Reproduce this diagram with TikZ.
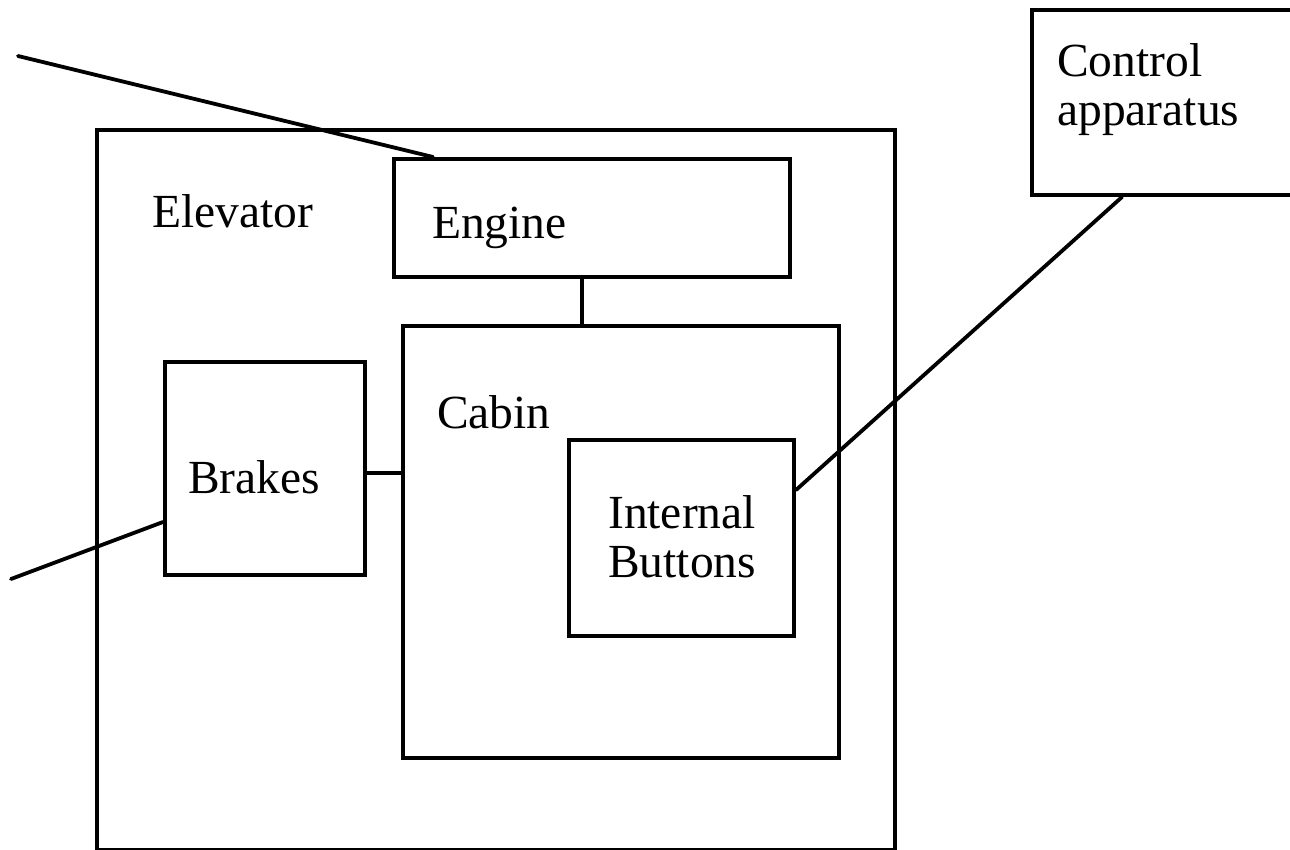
\documentclass[tikz,border=0pt]{standalone}
\usepackage{fontspec}
\setmainfont{Liberation Serif}
\usetikzlibrary{calc}
\begin{document}
\begin{tikzpicture}[x=1pt,y=-1pt,
  box/.style={draw=black,line width=4pt,rectangle,inner sep=0pt,anchor=north west},
  lbl/.style={inner sep=0pt,anchor=base west,align=left,font=\fontsize{47.5}{49}\selectfont},
  wire/.style={draw=black,line width=3.8pt}]
\useasboundingbox (0,0) rectangle (1290,850);
% boxes
\node[box,minimum width=798pt,minimum height=720pt] (elev) at (95,128) {};
\node[box,minimum width=396pt,minimum height=118pt] (engine) at (392,157) {};
\node[box,minimum width=436pt,minimum height=432pt] (cabin) at (401,324) {};
\node[box,minimum width=200pt,minimum height=213pt] (brakes) at (163,360) {};
\node[box,minimum width=225pt,minimum height=196pt] (buttons) at (567,438) {};
\node[box,minimum width=262pt,minimum height=185pt] (control) at (1030,8) {};
% labels
\node[lbl] (telev) at (152,228) {Elevator};
\node[lbl] (tengine) at (432,239) {Engine};
\node[lbl] (tcabin) at (437,428) {Cabin};
\node[lbl] (tbrakes) at (188,493) {Brakes};
\node[lbl] (tbuttons) at (608,577) {Internal\\Buttons};
\node[lbl] (tcontrol) at (1057,126) {Control\\apparatus};
% free ends
\coordinate (freeA) at (18,56);
\coordinate (freeB) at (11,579);
% connectors
\draw[wire,line cap=round] (freeA) -- ($(engine.north west)!(433,0)!(engine.north east)$);
\draw[wire,line cap=round] (freeB) -- ($(brakes.north west)!(0,522)!(brakes.south west)$);
\draw[wire] ($(engine.south west)!(582,0)!(engine.south east)$) -- ($(cabin.north west)!(582,0)!(cabin.north east)$);
\draw[wire] ($(brakes.north east)!(0,473)!(brakes.south east)$) -- ($(cabin.north west)!(0,473)!(cabin.south west)$);
\draw[wire,line cap=round] ($(control.south west)!(1122,0)!(control.south east)$) -- ($(buttons.north east)!(0,490)!(buttons.south east)$);
\end{tikzpicture}
\end{document}
